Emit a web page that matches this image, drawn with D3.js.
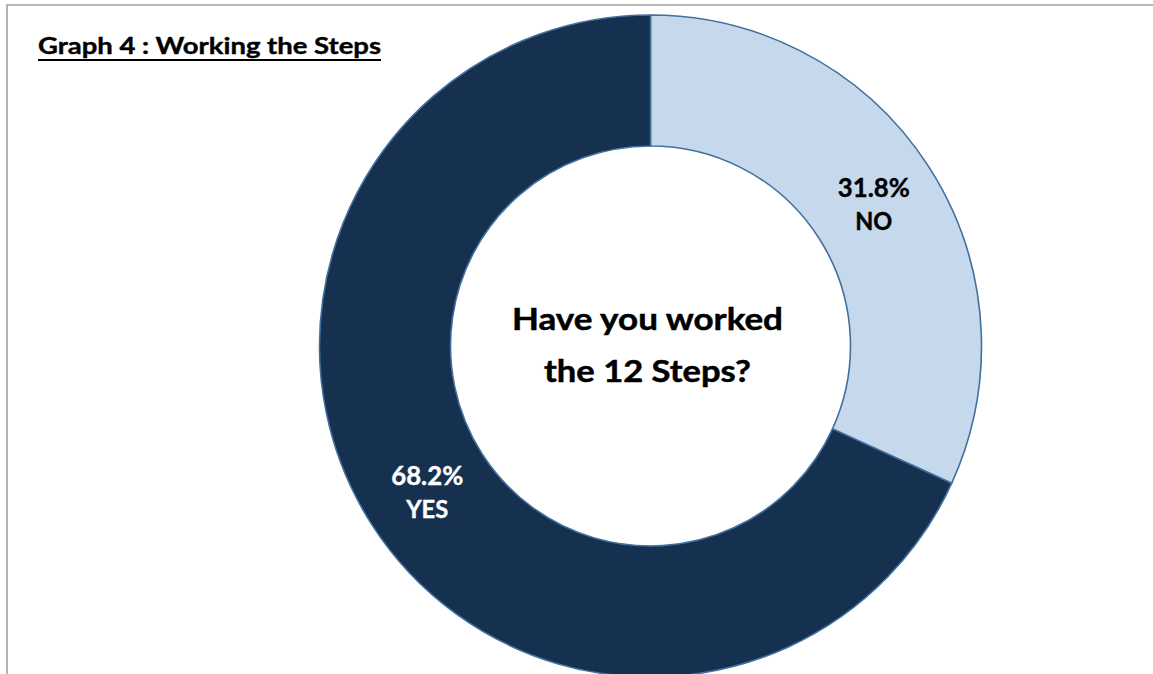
<!DOCTYPE html>
<html>
<head>
<meta charset="utf-8">
<script src="https://cdn.jsdelivr.net/npm/d3@7"></script>
<style>
  html, body { margin: 0; padding: 0; background: #ffffff; }
  svg { display: block; }
  text { font-family: "Lato", "Open Sans", sans-serif; font-weight: bold; }
</style>
</head>
<body>
<svg id="chart" width="1153" height="674"></svg>
<script>
// Survey answers, clockwise from 12 o'clock
const categories = ["NO", "YES"];
const percentages = [31.8, 68.2];
const sliceColors = ["#c6d9ec", "#16304f"];
const labelColors = ["#000000", "#ffffff"];

const chartTitle = "Graph 4 : Working the Steps";
const centerLines = ["Have you worked", "the 12 Steps?"];

const svg = d3.select("#chart");
const W = 1153, H = 674;

// Frame (top and left edges visible)
svg.append("path")
  .attr("d", `M7,${H + 2} L7,5 L${W + 2},5`)
  .attr("fill", "none")
  .attr("stroke", "#a0a0a0")
  .attr("stroke-width", 1.6);

// Title with underline
svg.append("text")
  .attr("x", 38)
  .attr("y", 54)
  .attr("font-size", 23)
  .attr("fill", "#000")
  .attr("stroke", "#000")
  .attr("stroke-width", 0.4)
  .attr("textLength", 343)
  .attr("lengthAdjust", "spacingAndGlyphs")
  .text(chartTitle);
svg.append("line")
  .attr("x1", 38).attr("x2", 381)
  .attr("y1", 60).attr("y2", 60)
  .attr("stroke", "#000")
  .attr("stroke-width", 2);

// Donut
const cx = 650.5, cy = 346;
const outerR = 331, innerR = 200;

const data = categories.map((c, i) => ({ category: c, value: percentages[i], i }));

const pie = d3.pie().sort(null).value(d => d.value);
const arc = d3.arc().innerRadius(innerR).outerRadius(outerR);
const labelArc = d3.arc().innerRadius((innerR + outerR) / 2).outerRadius((innerR + outerR) / 2);

const g = svg.append("g").attr("transform", `translate(${cx},${cy})`);

const arcs = pie(data);

g.selectAll("path.slice")
  .data(arcs)
  .join("path")
  .attr("class", "slice")
  .attr("d", arc)
  .attr("fill", d => sliceColors[d.data.i])
  .attr("stroke", "#41709e")
  .attr("stroke-width", 1.6)
  .attr("stroke-linejoin", "round");

// Slice labels: percentage over category
const labelWidths = { pct: 72, NO: 37, YES: 42 };
const lbl = g.selectAll("g.label")
  .data(arcs)
  .join("g")
  .attr("class", "label")
  .attr("transform", d => {
    const [x, y] = labelArc.centroid(d);
    return `translate(${x},${y})`;
  });

lbl.append("text")
  .attr("text-anchor", "middle")
  .attr("y", -5)
  .attr("font-size", 26)
  .attr("fill", d => labelColors[d.data.i])
  .attr("stroke", d => labelColors[d.data.i])
  .attr("stroke-width", 0.4)
  .attr("textLength", labelWidths.pct)
  .attr("lengthAdjust", "spacingAndGlyphs")
  .text(d => d3.format(".1f")(d.data.value) + "%");

lbl.append("text")
  .attr("text-anchor", "middle")
  .attr("y", 28)
  .attr("font-size", 24)
  .attr("fill", d => labelColors[d.data.i])
  .attr("stroke", d => labelColors[d.data.i])
  .attr("stroke-width", 0.4)
  .attr("textLength", d => labelWidths[d.data.category])
  .attr("lengthAdjust", "spacingAndGlyphs")
  .text(d => d.data.category);

// Question in the hole
const centerWidths = [271, 207];
g.selectAll("text.center")
  .data(centerLines)
  .join("text")
  .attr("class", "center")
  .attr("text-anchor", "middle")
  .attr("x", -3)
  .attr("y", (d, i) => -16 + i * 52)
  .attr("font-size", 31)
  .attr("fill", "#000")
  .attr("stroke", "#000")
  .attr("stroke-width", 0.5)
  .attr("textLength", (d, i) => centerWidths[i])
  .attr("lengthAdjust", "spacingAndGlyphs")
  .text(d => d);
</script>
</body>
</html>
